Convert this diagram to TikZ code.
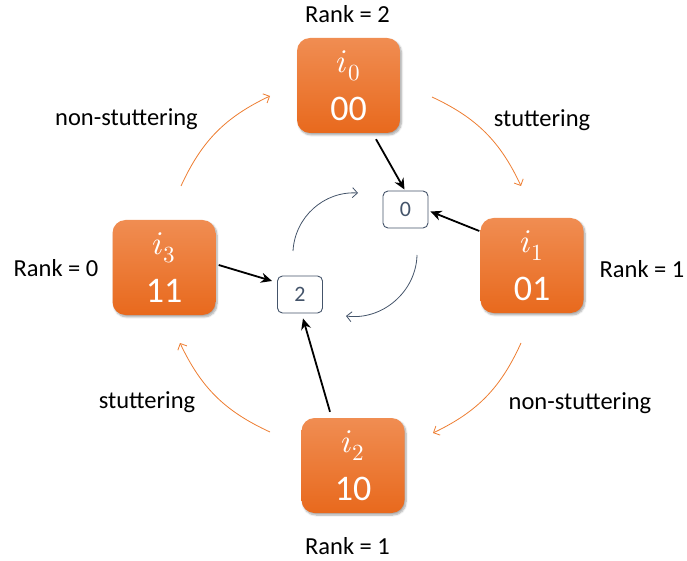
\documentclass[tikz,border=0pt]{standalone}
\usepackage{fontspec}
\usepackage{unicode-math}
\setmainfont{Carlito}
\setmathfont{Latin Modern Math}
\usetikzlibrary{arrows.meta,shadows.blur}
\definecolor{boxtop}{HTML}{F08D52}
\definecolor{boxbot}{HTML}{E8691D}
\definecolor{slate}{HTML}{44546A}
\definecolor{flow}{HTML}{ED7D31}
\newcommand{\stname}[1]{{\fontsize{33}{33}\selectfont$i_{#1}$}}

\begin{document}
\begin{tikzpicture}[x=1pt,y=1pt,
  state/.style={rounded corners=13pt, minimum width=103pt, minimum height=95pt,
    top color=boxtop, bottom color=boxbot, text=white, align=center,
    font=\fontsize{36}{48}\selectfont, inner sep=0pt,
    blur shadow={shadow xshift=1.5pt, shadow yshift=-2pt, shadow blur steps=6, shadow opacity=35}},
  rankbox/.style={draw=slate, rounded corners=5pt, minimum width=45pt, minimum height=37pt,
    text=slate, font=\fontsize{22}{24}\selectfont, line width=0.9pt, fill=white},
  lbl/.style={font=\fontsize{24.5}{27}\selectfont, text=black},
  tie/.style={-{Stealth[length=11pt,width=10pt]}, line width=1.8pt},
  loopflow/.style={slate, line width=0.8pt, -{Straight Barb[length=5pt,width=10pt]}},
  cycleflow/.style={flow, line width=0.8pt, -{Straight Barb[length=5pt,width=10pt]}},
]
\useasboundingbox (0,0) rectangle (687,560);

% states of the ring
\node[state] (i0) at (348.5,474.5) {\stname{0}\\00};
\node[state] (i1) at (532,294.5) {\stname{1}\\01};
\node[state] (i2) at (353,94.5) {\stname{2}\\10};
\node[state] (i3) at (164,292.5) {\stname{3}\\11};

% rank counters
\node[rankbox] (box0) at (405.5,350.5) {0};
\node[rankbox] (box2) at (300,265.5) {2};

% labels
\node[lbl] (r0) at (347.5,546) {Rank = 2};
\node[lbl] (r1) at (642,291) {Rank = 1};
\node[lbl] (r2) at (347.5,14) {Rank = 1};
\node[lbl] (r3) at (56,292) {Rank = 0};
\node[lbl] (e01) at (542,440) {stuttering};
\node[lbl] (e12) at (580,157) {non-stuttering};
\node[lbl] (e23) at (147,158) {stuttering};
\node[lbl] (e30) at (126.5,441) {non-stuttering};

% states pointing to their rank
\draw[tie] ([xshift=27.5pt,yshift=-6pt]i0.south) -- ([xshift=-1pt,yshift=1pt]box0.north);
\draw[tie] ([xshift=-1pt,yshift=34.5pt]i1.west) -- ([xshift=2pt,yshift=-2pt]box0.east);
\draw[tie] ([xshift=3pt,yshift=2.5pt]i3.east) -- ([xshift=-5pt,yshift=13.5pt]box2.west);
\draw[tie] ([xshift=-23pt,yshift=6pt]i2.north) -- ([xshift=3pt,yshift=-5pt]box2.south);

% inner loop between the ranks
\coordinate (la) at (293,309);
\coordinate (lb) at (358,367);
\coordinate (lc) at (417,305);
\coordinate (ld) at (346,244);
\draw[loopflow] (la) to[bend left=45] (lb);
\draw[loopflow] (lc) to[bend left=48] (ld);

% outer cycle of transitions
\coordinate (c0s) at (432,463);
\coordinate (c0e) at (521,374);
\coordinate (c1s) at (521,217);
\coordinate (c1e) at (433,127);
\coordinate (c2s) at (270,128);
\coordinate (c2e) at (180,217);
\coordinate (c3s) at (181,374);
\coordinate (c3e) at (270,464);
\draw[cycleflow] (c0s) to[bend left=20] (c0e);
\draw[cycleflow] (c1s) to[bend left=20] (c1e);
\draw[cycleflow] (c2s) to[bend left=20] (c2e);
\draw[cycleflow] (c3s) to[bend left=20] (c3e);
\end{tikzpicture}
\end{document}
